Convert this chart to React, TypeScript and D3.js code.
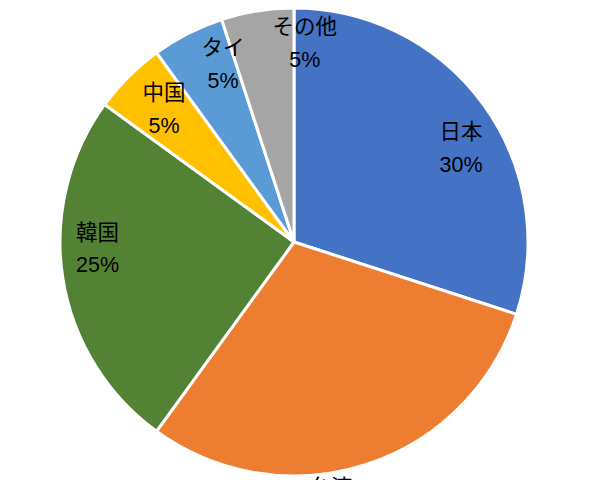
import React from "react";
import * as d3 from "d3";

// Share of visitors by country/region (percent)
const categories = ["日本", "台湾", "韓国", "中国", "タイ", "その他"];
const shares = [30, 30, 25, 5, 5, 5];
const colors = ["#4472C4", "#ED7D31", "#548235", "#FFC000", "#5B9BD5", "#A5A5A5"];

// Label placement: nudges (px) applied to the point at 0.8·radius on each slice's mid-angle
const labelNudge: [number, number][] = [
  [15.6, 17],
  [-21, 84],
  [-11.6, -22.3],
  [2.4, -0.6],
  [14, -11],
  [40, -14],
];

const W = 600;
const H = 480;
const cx = 294;
const cy = 242;
const R = 234;

export default function App() {
  const pie = d3
    .pie<number>()
    .sort(null)
    .value((d) => d);
  const arcs = pie(shares);
  const arcGen = d3.arc<d3.PieArcDatum<number>>().innerRadius(0).outerRadius(R);
  const font = "'Liberation Sans', Arial, 'Noto Sans CJK JP', sans-serif";
  const fs = 21.5;

  return (
    <svg
      width={W}
      height={H}
      style={{ position: "absolute", left: 0, top: 0, background: "#fff" }}
    >
      <g transform={`translate(${cx},${cy})`}>
        {arcs.map((a, i) => (
          <path key={i} d={arcGen(a) || ""} fill={colors[i]} stroke="#fff" strokeWidth={3} strokeLinejoin="round" />
        ))}
        {arcs.map((a, i) => {
          const mid = (a.startAngle + a.endAngle) / 2;
          const r = R * 0.8;
          const x = r * Math.sin(mid) + labelNudge[i][0];
          const y = -r * Math.cos(mid) + labelNudge[i][1];
          return (
            <text key={"l" + i} x={x} y={y} textAnchor="middle" fontFamily={font} fontSize={fs} fill="#000">
              <tspan x={x} dy={-16.5} dominantBaseline="central">
                {categories[i]}
              </tspan>
              <tspan x={x} dy={33} dominantBaseline="central">
                {`${shares[i]}%`}
              </tspan>
            </text>
          );
        })}
      </g>
    </svg>
  );
}
